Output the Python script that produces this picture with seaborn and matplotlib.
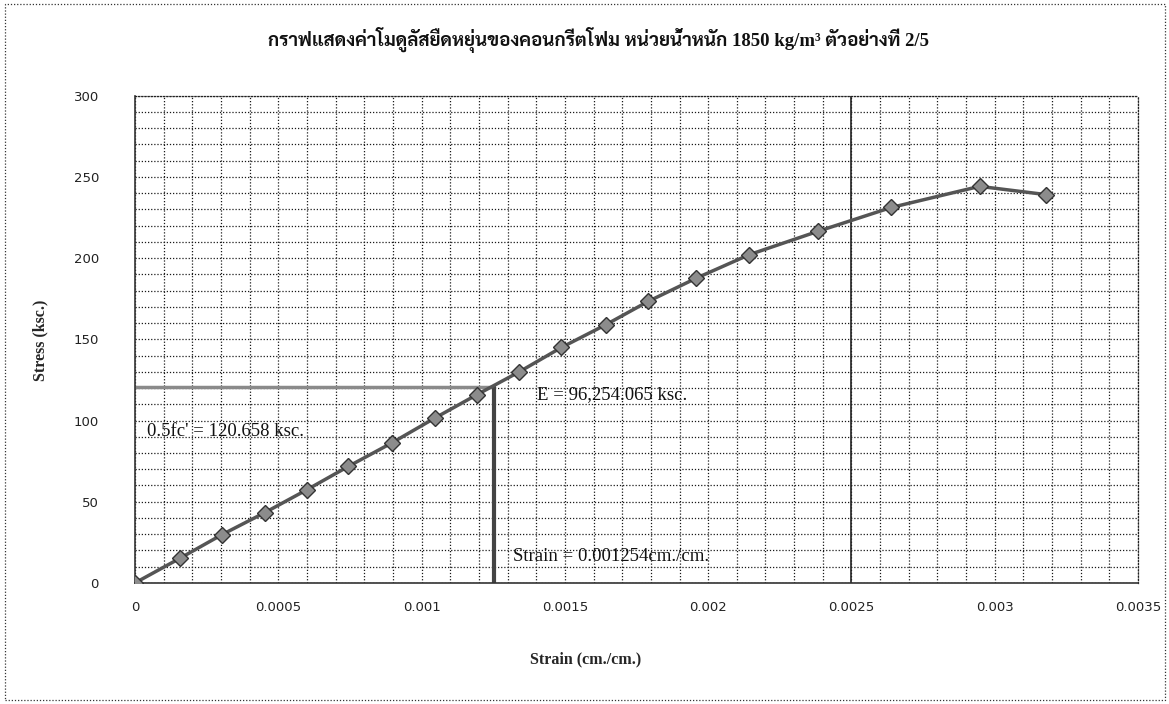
import matplotlib
matplotlib.use("Agg")
import matplotlib.pyplot as plt
from matplotlib import font_manager
from matplotlib.ticker import MultipleLocator
import seaborn as sns
import pandas as pd

# ---- data ----
strain = [0.0, 0.000157, 0.000302, 0.000453, 0.000599, 0.000744, 0.000895,
          0.001046, 0.001192, 0.001340, 0.001488, 0.001643, 0.001790,
          0.001959, 0.002143, 0.002383, 0.002639, 0.002947, 0.003180]
stress = [0.0, 15.2, 29.6, 43.3, 57.3, 71.7, 86.1, 101.5, 115.8, 129.9,
          145.0, 159.0, 173.3, 187.7, 202.1, 216.5, 231.2, 244.2, 239.1]
half_fc = 120.658
strain_at_half = 0.001254
ref_strain_line = 0.0025

title = "กราฟแสดงค่าโมดูลัสยืดหยุ่นของคอนกรีตโฟม หน่วยน้ำหนัก 1850 kg/m³ ตัวอย่างที่ 2/5"
xlabel = "Strain (cm./cm.)"
ylabel = "Stress (ksc.)"
label_fc = "0.5fc' = 120.658 ksc."
label_E = "E = 96,254.065 ksc."
label_strain = "Strain = 0.001254cm./cm."
xticks = [0, 0.0005, 0.001, 0.0015, 0.002, 0.0025, 0.003, 0.0035]
xticklabels = ["0", "0.0005", "0.001", "0.0015", "0.002", "0.0025", "0.003", "0.0035"]
yticks = [0, 50, 100, 150, 200, 250, 300]

sns.set_theme(style="white")

avail = {f.name for f in font_manager.fontManager.ttflist}
def pick(cands):
    return [c for c in cands if c in avail] + ["DejaVu Sans"]

serif_fam = pick(["Liberation Serif", "DejaVu Serif"])
thai_fam = pick(["Liberation Serif", "Sarabun", "Noto Serif Thai", "Charm", "Noto Sans Thai", "Athiti"])
plt.rcParams["font.family"] = serif_fam

df = pd.DataFrame({"strain": strain, "stress": stress})

fig = plt.figure(figsize=(11.69, 7.04), dpi=100)
ax = fig.add_axes([0.1155, 0.172, 0.858, 0.692])

ax.set_xlim(0, 0.0035)
ax.set_ylim(0, 300)
ax.xaxis.set_minor_locator(MultipleLocator(0.0001))
ax.yaxis.set_minor_locator(MultipleLocator(10))
ax.set_xticks(xticks)
ax.set_xticklabels(xticklabels)
ax.set_yticks(yticks)
ax.grid(which="both", color="#1a1a1a", linestyle=(0, (1, 1.5)), linewidth=0.9)
ax.set_axisbelow(True)

for side in ["top", "right"]:
    ax.spines[side].set_linestyle((0, (1, 1.5)))
    ax.spines[side].set_color("#222222")
    ax.spines[side].set_linewidth(0.9)
for side in ["left", "bottom"]:
    ax.spines[side].set_color("#333333")
    ax.spines[side].set_linewidth(1.2)

# reference lines
ax.axvline(ref_strain_line, color="#222222", linewidth=1.2, zorder=2)
ax.plot([0, strain_at_half], [half_fc, half_fc], color="#8a8a8a", linewidth=2.5, zorder=2)
ax.plot([strain_at_half, strain_at_half], [0, half_fc], color="#444444", linewidth=3, zorder=2)

sns.lineplot(data=df, x="strain", y="stress", ax=ax, sort=False, color="#555555",
             linewidth=2.5, marker="D", markersize=8, markerfacecolor="#8c8c8c",
             markeredgecolor="#333333", markeredgewidth=1.0, zorder=4)

ax.tick_params(axis="both", which="major", length=4, width=0.8, color="#333333",
               labelsize=10, labelcolor="#222222", direction="out")
ax.tick_params(axis="x", pad=9)
ax.tick_params(axis="y", pad=22)
for lab in ax.get_xticklabels() + ax.get_yticklabels():
    lab.set_family(["DejaVu Sans"])
    lab.set_fontsize(9.5)

ax.set_xlabel(xlabel, fontsize=11.5, fontweight="bold")
ax.set_ylabel(ylabel, fontsize=11.5, fontweight="bold")
ax.xaxis.set_label_coords(0.449, -0.141)
ax.yaxis.set_label_coords(-0.086, 0.497)

ax.text(0.000042, 93, label_fc, fontsize=13.5, va="center", ha="left", color="#111111", zorder=5)
ax.text(0.001402, 115.8, label_E, fontsize=13.5, va="center", ha="left", color="#111111", zorder=5)
ax.text(0.001318, 16, label_strain, fontsize=13.5, va="center", ha="left", color="#111111", zorder=5)

fig.text(0.512, 0.943, title, ha="center", va="center", fontsize=13.5, fontweight="bold",
         family=thai_fam, color="#111111")

# dotted chart-area border
border = plt.Rectangle((0.004, 0.005), 0.993, 0.99, transform=fig.transFigure, fill=False,
                       edgecolor="#333333", linestyle=(0, (1, 1.5)), linewidth=0.9)
fig.patches.append(border)

fig.savefig("out.png", dpi=100)
